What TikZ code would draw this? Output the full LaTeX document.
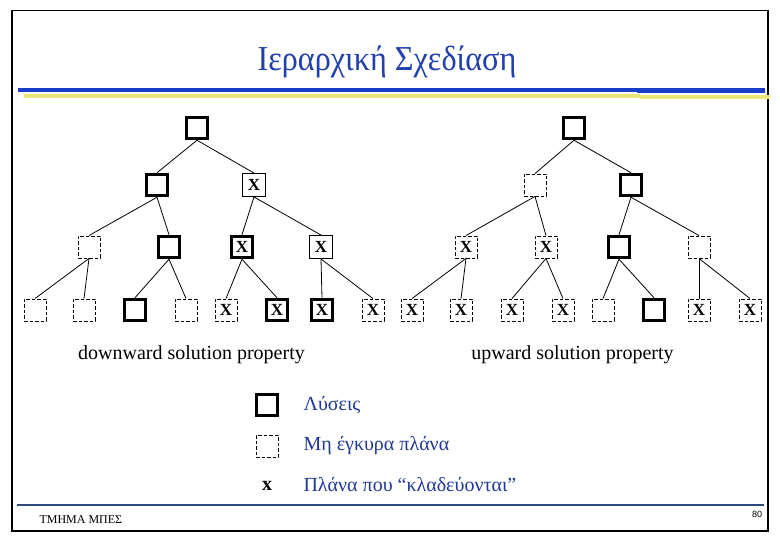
\documentclass[tikz,border=0pt]{standalone}
\usepackage{fontspec}
\setmainfont{Liberation Serif}
\newfontfamily\footsans{Liberation Sans}
\usetikzlibrary{positioning}
\definecolor{titleblue}{RGB}{32,64,176}
\definecolor{barblue}{RGB}{24,62,200}
\definecolor{baryellow}{RGB}{232,232,122}
\definecolor{footblue}{RGB}{46,74,122}
\definecolor{keyblue}{RGB}{32,56,150}

\begin{document}
\begin{tikzpicture}[
  x=1pt,
  y=-1pt,
  solbox/.style={draw,line width=3.5pt,minimum size=21pt,inner sep=0pt,
    font=\fontsize{17}{17}\selectfont\bfseries},
  plainbox/.style={draw,line width=0.9pt,minimum size=23pt,inner sep=0pt,
    font=\fontsize{17}{17}\selectfont\bfseries},
  invbox/.style={draw,line width=0.9pt,dash pattern=on 3.5pt off 2pt,
    minimum size=22pt,inner sep=0pt,font=\fontsize{17}{17}\selectfont\bfseries},
  edge/.style={line width=0.8pt},
  caption/.style={font=\fontsize{20}{20}\selectfont},
  keytext/.style={font=\fontsize{20}{20}\selectfont,text=keyblue,anchor=west}
]
\useasboundingbox (0,0) rectangle (780,540);

% Frame
\draw[line width=1.2pt] (12,10.5) rectangle (768,531);

% Title and bars
\node[font=\fontsize{35}{35}\selectfont,text=titleblue] (title) at (387,62)
  {\scalebox{0.92}[1]{Ιεραρχική Σχεδίαση}};
\draw[barblue,line width=4.5pt] (18,90) -- (637,90);
\draw[barblue,line width=4.5pt] (637,90.6) -- (765,90.6);
\draw[baryellow,line width=4pt] (24,96) -- (640,96);
\draw[baryellow,line width=4pt] (640,96.6) -- (770,96.6);

% Left tree
\node[solbox] (L) at (197,128) {};
\node[solbox] (La) at (157,185) {};
\node[plainbox] (Lb) at (254,185) {X};
\node[invbox] (Laa) at (89,247) {};
\node[solbox] (Lab) at (169,247) {};
\node[solbox] (Lba) at (242,247) {X};
\node[plainbox] (Lbb) at (321,247) {X};
\node[invbox] (Laaa) at (35,310) {};
\node[invbox] (Laab) at (84,310) {};
\node[solbox] (Laba) at (135,310) {};
\node[invbox] (Labb) at (186,310) {};
\node[invbox] (Lbaa) at (226,310) {X};
\node[solbox] (Lbab) at (277,310) {X};
\node[solbox] (Lbba) at (322,310) {X};
\node[invbox] (Lbbb) at (373,310) {X};

% Right tree
\node[solbox] (R) at (574,128) {};
\node[invbox] (Ra) at (535,185) {};
\node[solbox] (Rb) at (631,185) {};
\node[invbox] (Raa) at (466,247) {X};
\node[invbox] (Rab) at (546,247) {X};
\node[solbox] (Rba) at (619,247) {};
\node[invbox] (Rbb) at (699,247) {};
\node[invbox] (Raaa) at (412,310) {X};
\node[invbox] (Raab) at (461,310) {X};
\node[invbox] (Raba) at (512,310) {X};
\node[invbox] (Rabb) at (563,310) {X};
\node[invbox] (Rbaa) at (603,310) {};
\node[solbox] (Rbab) at (654,310) {};
\node[invbox] (Rbba) at (699,310) {X};
\node[invbox] (Rbbb) at (750,310) {X};

% Edges
\foreach \T in {L,R} {
  \foreach \P in {\T,\T a,\T b,\T aa,\T ab,\T ba,\T bb} {
    \draw[edge] (\P.south) -- (\P a.north);
    \draw[edge] (\P.south) -- (\P b.north);
  }
}

% Captions
\node[caption] (down) at (191.5,355) {downward solution property};
\node[caption] (up) at (572.5,355) {upward solution property};

% Legend
\node[solbox] (key1) at (267,405) {};
\node[invbox] (key2) at (267,446) {};
\node[font=\fontsize{20}{20}\selectfont\bfseries] (key3) at (267,486) {x};
\node[keytext] at (300,405) {Λύσεις};
\node[keytext] at (300,446) {Μη έγκυρα πλάνα};
\node[keytext] at (300,485) {Πλάνα που “κλαδεύονται”};

% Footer
\draw[footblue,line width=2.5pt] (17,505) -- (764,505);
\node[font=\fontsize{12}{12}\selectfont,anchor=west] (dept) at (36,520)
  {ΤΜΗΜΑ ΜΠΕΣ};
\node[font=\footsans\fontsize{9}{9}\selectfont] (page) at (757,514) {80};

\end{tikzpicture}
\end{document}
